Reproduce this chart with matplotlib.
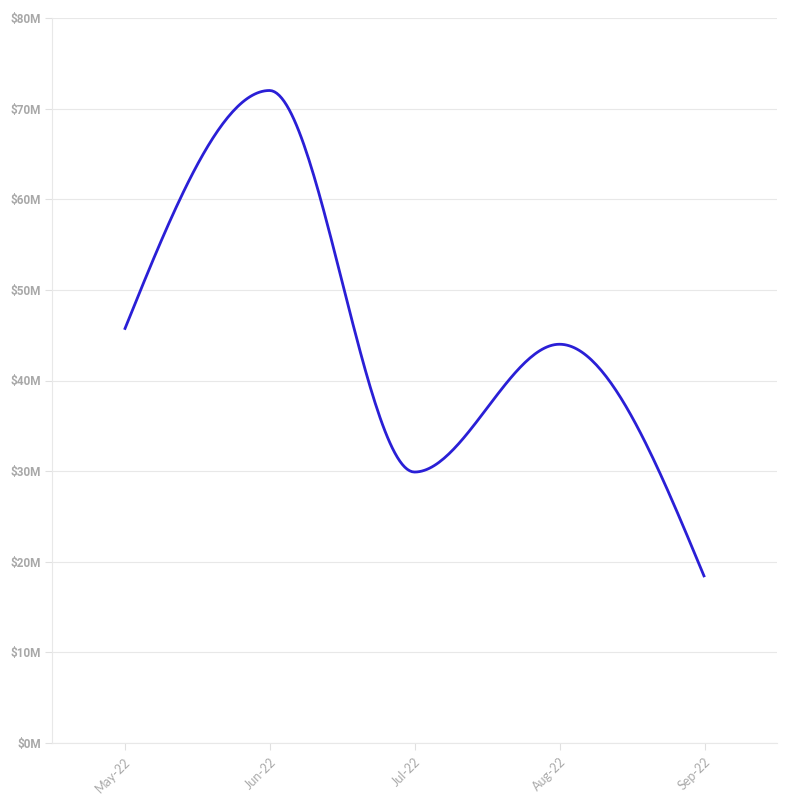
import matplotlib
matplotlib.use("Agg")
import matplotlib.pyplot as plt
import numpy as np

months = ["May-22", "Jun-22", "Jul-22", "Aug-22", "Sep-22"]
values = [45.6, 72.0, 29.9, 44.0, 18.3]  # $M
yticks = [0, 10, 20, 30, 40, 50, 60, 70, 80]


def monotone_x(x, y, n=60):
    # d3 curveMonotoneX style (Steffen slopes)
    x = np.asarray(x, float)
    y = np.asarray(y, float)
    h = np.diff(x)
    s = np.diff(y) / h
    m = np.zeros_like(y)
    for i in range(1, len(y) - 1):
        p = (s[i - 1] * h[i] + s[i] * h[i - 1]) / (h[i - 1] + h[i])
        m[i] = (np.sign(s[i - 1]) + np.sign(s[i])) * min(abs(s[i - 1]), abs(s[i]), 0.5 * abs(p))
    m[0] = (3 * s[0] - m[1]) / 2 if len(y) > 2 else s[0]
    m[-1] = (3 * s[-1] - m[-2]) / 2 if len(y) > 2 else s[-1]
    xs, ys = [], []
    for i in range(len(y) - 1):
        t = np.linspace(0, 1, n)
        hh = h[i]
        h00 = 2 * t**3 - 3 * t**2 + 1
        h10 = t**3 - 2 * t**2 + t
        h01 = -2 * t**3 + 3 * t**2
        h11 = t**3 - t**2
        xs.append(x[i] + t * hh)
        ys.append(h00 * y[i] + h10 * hh * m[i] + h01 * y[i + 1] + h11 * hh * m[i + 1])
    return np.concatenate(xs), np.concatenate(ys)


plt.rcParams['font.family'] = ['Lato', 'DejaVu Sans']

fig = plt.figure(figsize=(7.96, 8.01), dpi=100)
ax = fig.add_axes([52 / 796, 58 / 801, 725 / 796, 725 / 801])

xi = np.arange(len(months))
cx, cy = monotone_x(xi, values)
ax.plot(cx, cy, color="#2a1fd6", linewidth=2.0, solid_capstyle="butt", zorder=3)

ax.set_xlim(-0.5, len(months) - 0.5)
ax.set_ylim(0, 80)
ax.set_yticks(yticks)
ax.set_yticklabels(["$%dM" % v for v in yticks], fontsize=8.5, fontweight="bold",
                   family=["Roboto", "DejaVu Sans"], color="#a8a8a8")
ax.set_xticks(xi)
ax.set_xticklabels(months, rotation=45, ha="right", rotation_mode="anchor",
                   fontsize=9, color="#aaaaaa")
ax.grid(axis="y", color="#e8e8e8", linewidth=0.8)
ax.set_axisbelow(True)
for side in ["top", "right"]:
    ax.spines[side].set_visible(False)
ax.spines["left"].set_color("#e8e8e8")
ax.spines["bottom"].set_color("#e8e8e8")
ax.tick_params(axis="both", color="#e0e0e0", length=5, width=0.8)
ax.tick_params(axis="y", pad=3)
ax.tick_params(axis="x", pad=4)

fig.savefig("out.png", dpi=100, facecolor="white")
